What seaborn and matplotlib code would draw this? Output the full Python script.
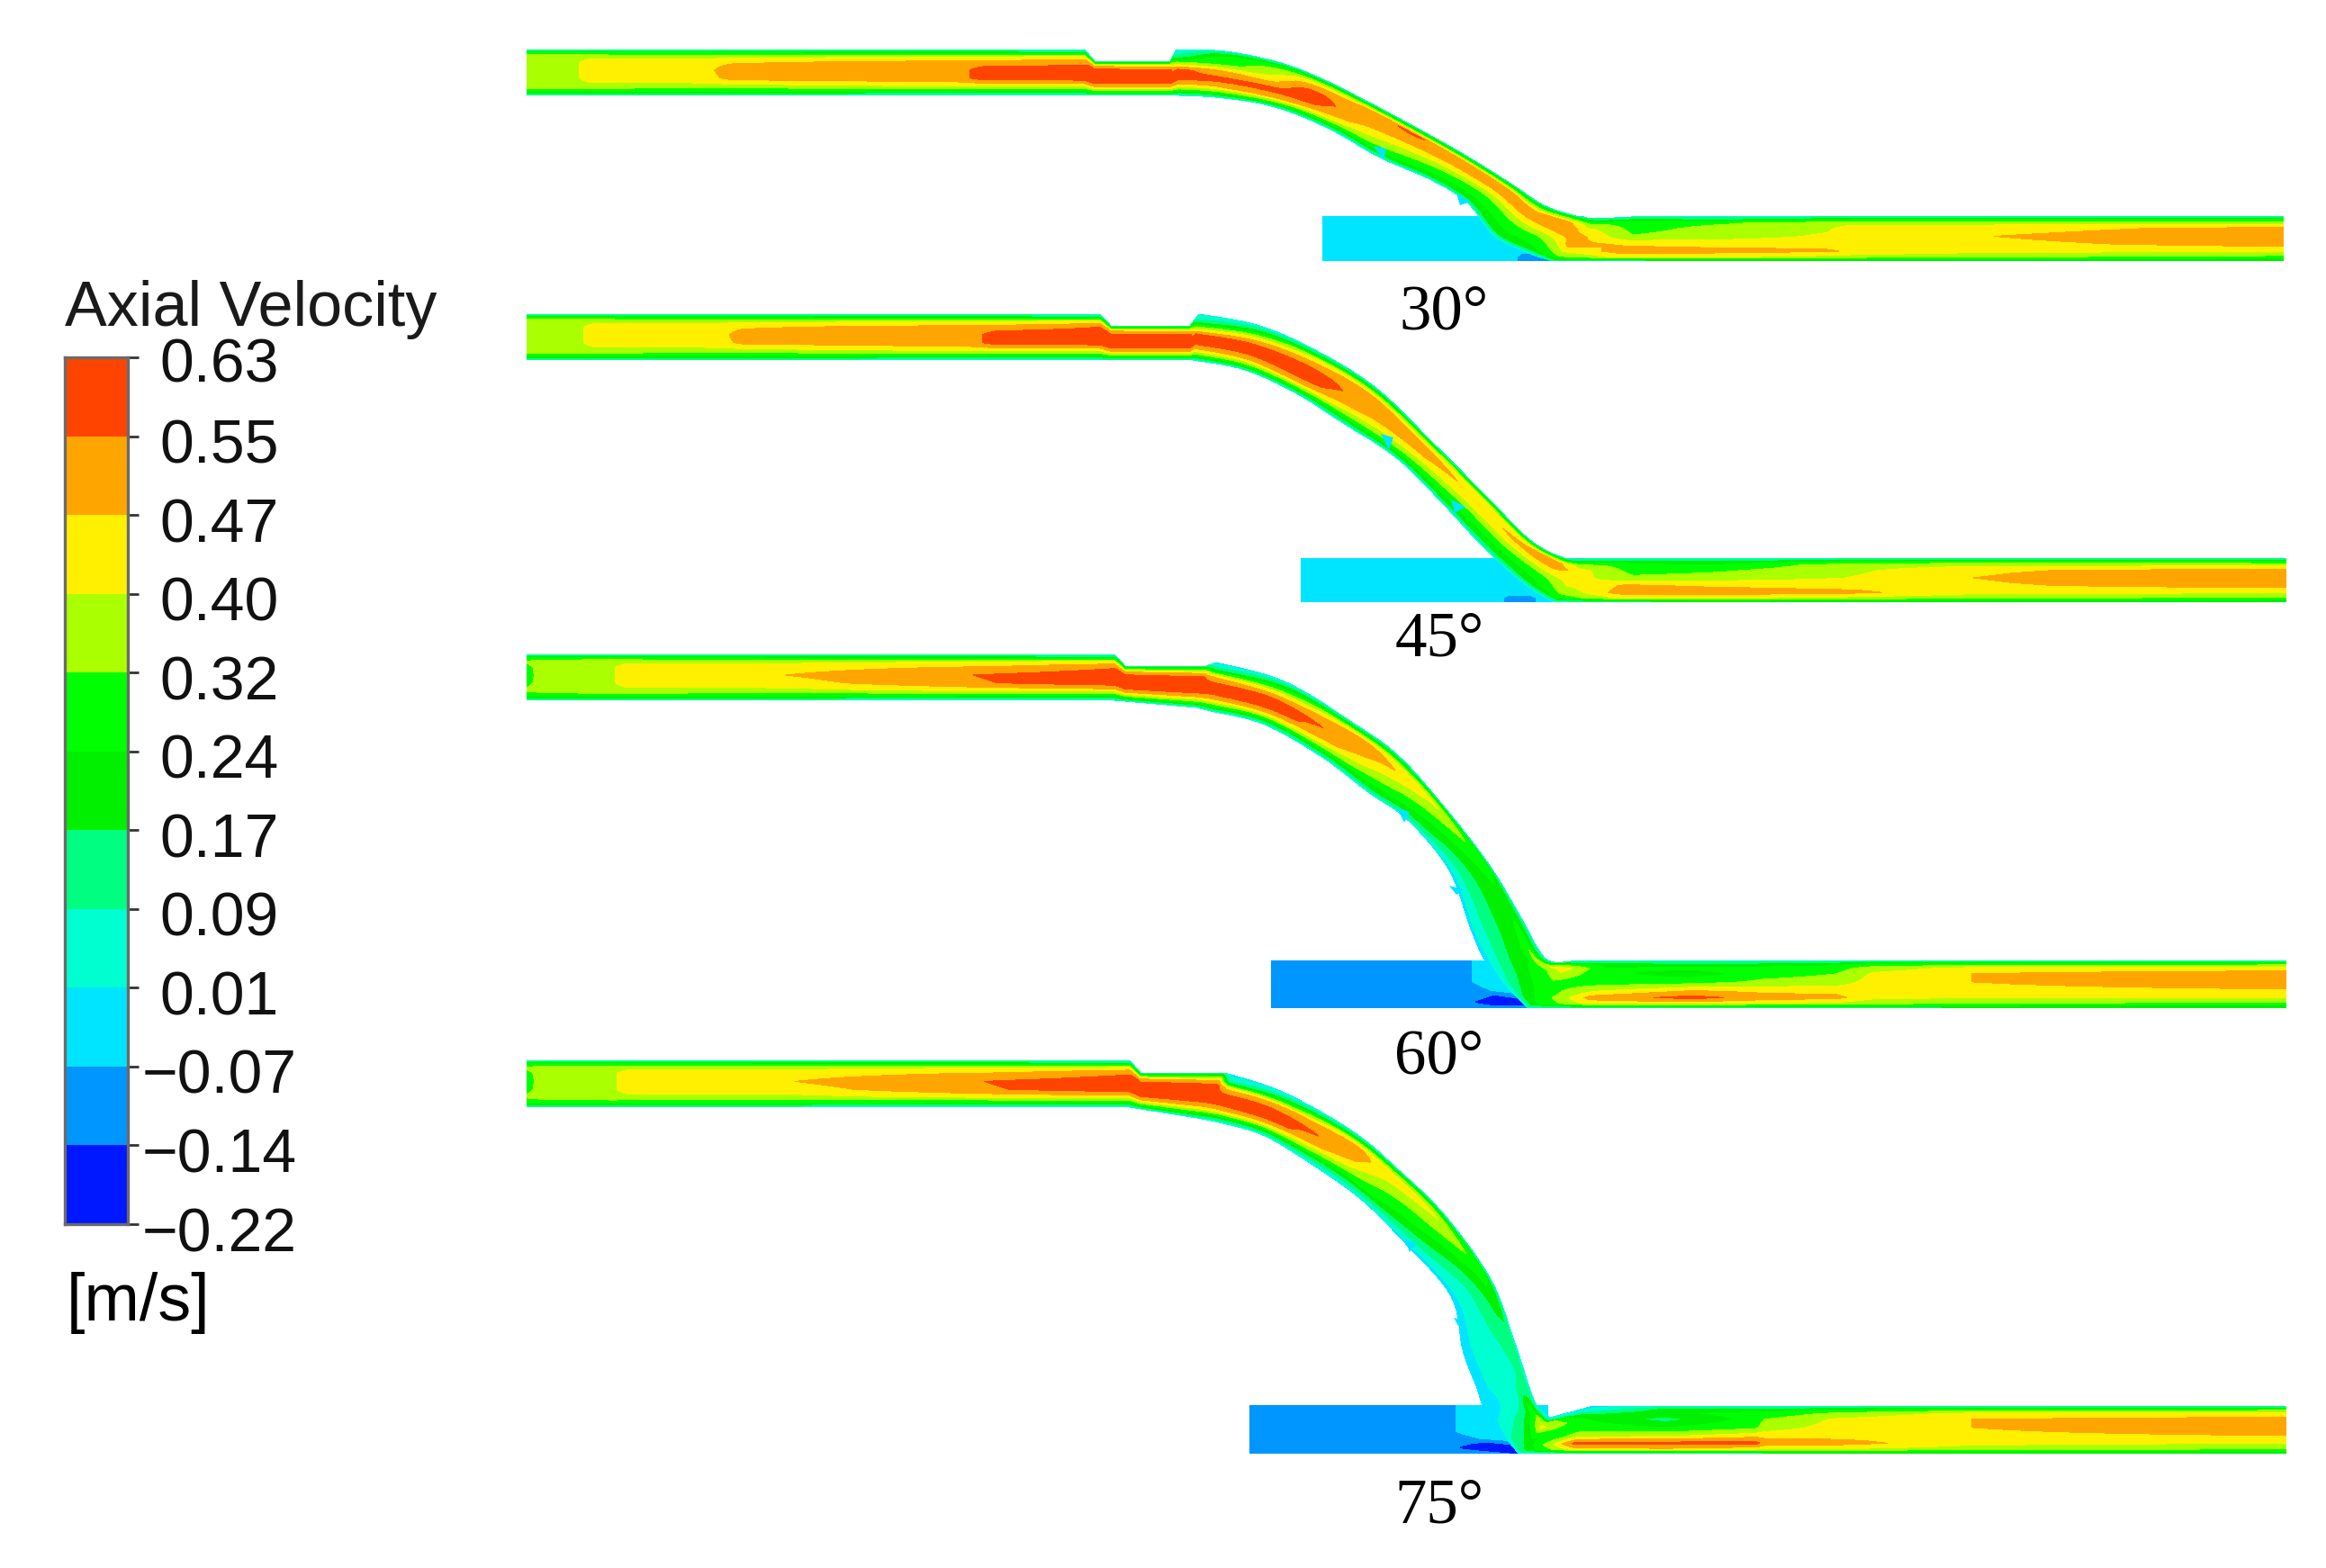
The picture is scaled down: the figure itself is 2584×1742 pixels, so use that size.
import numpy as np
import matplotlib
matplotlib.use("Agg")
import matplotlib.pyplot as plt
from matplotlib.colors import ListedColormap, BoundaryNorm
import seaborn as sns

sns.set_theme(style="white")
plt.rcParams['font.family'] = ['Liberation Sans', 'DejaVu Sans']

LEVELS = [-0.22, -0.14, -0.07, 0.01, 0.09, 0.17, 0.24, 0.32, 0.40, 0.47, 0.55, 0.63]
LEVEL_LABELS = ["0.63", "0.55", "0.47", "0.40", "0.32", "0.24", "0.17", "0.09", "0.01", "\u22120.07", "\u22120.14", "\u22120.22"]
BAND_COLORS = ["#0018ff", "#0096ff", "#00e5ff", "#00ffd0", "#00ff80", "#00f000", "#00ff00", "#aaff00", "#fff000", "#ffa500", "#ff4400"]
ANGLE_LABELS = ["30\u00b0", "45\u00b0", "60\u00b0", "75\u00b0"]
ACROSS = [0, .08, .16, .28, .45, .62, .78, .9, 1]

# ---- wall stations (top x, top y, bottom x, bottom y), velocity across the channel
W30 = [[585,55,585,106],[640,55,640,106],[655,55,655,106],[785,55,785,106],[815,55,815,106],[1070,55,1070,106],[1095,55,1095,106],[1205,55,1205,106],
       [1216,68,1216,106],[1300,68,1300,106],[1307,55,1310,106],[1361,57,1350,108],[1420,69,1400,115],
       [1463,85,1440,127],[1510,108,1484,147],[1570,140,1533,175],[1627,172,1590,200],[1680,205,1630,225],
       [1715,228,1660,262],[1751,240,1695,280],[1775,243,1725,290],[1830,240,1790,290],[1900,240,1885,290],
       [2030,240,2030,290],[2055,240,2055,290],[2215,240,2215,290],[2537,240,2537,290]]
U30 = [[.05,.28,.37,.38,.38,.38,.37,.28,.05],[.05,.28,.37,.39,.39,.39,.37,.28,.05],[.05,.27,.38,.43,.44,.43,.38,.27,.05],
       [.05,.25,.38,.44,.45,.44,.38,.26,.05],[.05,.25,.38,.46,.52,.50,.38,.26,.05],
       [.05,.23,.40,.50,.53,.53,.42,.25,.05],[.05,.22,.40,.50,.60,.60,.42,.24,.05],
       [.05,.20,.42,.52,.60,.60,.43,.24,.05],[.10,.30,.48,.60,.60,.58,.44,.25,.05],
       [.10,.30,.46,.58,.60,.58,.44,.25,.05],[.00,.06,.13,.33,.58,.58,.44,.26,.03],
       [.05,.20,.27,.30,.50,.58,.46,.28,.05],[.06,.24,.33,.38,.46,.58,.50,.30,.05],
       [.06,.28,.42,.52,.60,.57,.45,.25,.05],[.06,.30,.46,.52,.52,.48,.38,.22,.03],
       [.08,.32,.56,.52,.46,.38,.30,.22,.03],[.08,.30,.50,.52,.44,.33,.25,.20,.03],
       [.08,.30,.48,.52,.42,.30,.24,.20,.04],[.08,.30,.46,.52,.42,.30,.24,.22,.02],
       [.08,.32,.48,.52,.46,.34,.26,.22,.00],[.10,.20,.35,.44,.50,.50,.40,.30,.10],
       [.05,.20,.26,.28,.33,.46,.50,.42,.10],[.05,.15,.30,.35,.36,.44,.50,.42,.12],
       [.05,.22,.37,.39,.41,.44,.48,.38,.13],[.05,.24,.38,.43,.44,.45,.46,.37,.14],
       [.05,.25,.38,.44,.47,.45,.42,.33,.14],[.05,.25,.38,.50,.54,.50,.41,.30,.14]]

W45 = [[585,349,585,400],[645,349,645,400],[660,349,660,400],[800,349,800,400],[825,349,825,400],[1085,349,1085,400],[1108,349,1108,400],[1222,349,1222,400],
       [1234,362,1234,400],[1322,362,1322,400],[1332,349,1325,400],[1400,362,1383,411],[1467,392,1440,437],
       [1530,432,1492,470],[1590,490,1553,510],[1650,550,1608,565],[1700,600,1650,610],[1738,620,1695,650],
       [1760,621,1727,669],[1830,620,1790,669],[1900,620,1885,669],[2050,620,2050,669],[2192,620,2192,669],
       [2540,620,2540,669]]
U45 = [[.05,.28,.37,.38,.38,.38,.37,.28,.05],[.05,.28,.37,.39,.39,.39,.37,.28,.05],[.05,.27,.38,.43,.44,.43,.38,.27,.05],
       [.05,.25,.38,.44,.45,.44,.38,.26,.05],[.05,.25,.38,.46,.50,.49,.38,.26,.05],
       [.05,.23,.40,.50,.53,.53,.42,.25,.05],[.05,.22,.40,.50,.60,.60,.42,.24,.05],
       [.05,.20,.42,.55,.60,.60,.43,.24,.05],[.10,.30,.48,.58,.60,.58,.44,.25,.05],
       [.10,.30,.45,.58,.60,.58,.44,.25,.05],[.00,.06,.13,.33,.58,.58,.44,.26,.03],
       [.03,.12,.24,.42,.58,.58,.46,.28,.05],[.05,.20,.40,.50,.60,.58,.46,.26,.05],
       [.05,.28,.46,.52,.52,.47,.36,.22,.04],[.05,.30,.44,.50,.48,.40,.30,.20,.04],
       [.06,.30,.46,.46,.42,.32,.24,.18,.03],[.06,.30,.46,.48,.40,.30,.22,.16,.03],
       [.08,.30,.48,.50,.42,.30,.24,.18,.02],[.08,.20,.36,.44,.44,.40,.34,.26,.02],
       [.04,.20,.26,.28,.34,.48,.50,.40,.10],[.04,.18,.24,.30,.36,.46,.51,.42,.12],
       [.04,.24,.36,.38,.40,.44,.49,.38,.14],[.05,.27,.38,.46,.47,.46,.42,.34,.14],
       [.05,.25,.38,.50,.54,.50,.41,.30,.14]]

W60 = [[585,727,585,778],[610,727,610,778],[680,727,680,778],[695,727,695,778],[873,727,873,778],[1107,727,1107,778],
       [1238,727,1238,778],[1250,740,1250,779],[1340,740,1330,786],[1351,736,1345,790],[1427,757,1405,805],
       [1503,803,1470,842],[1554,840,1520,880],[1605,897,1565,912],[1656,963,1610,967],[1690,1020,1635,1035],
       [1717,1065,1655,1075],[1745,1068,1697,1120],[1790,1067,1760,1120],[1880,1067,1880,1120],[1960,1067,1960,1120],
       [2040,1067,2040,1120],[2080,1067,2080,1120],[2190,1067,2190,1120],[2540,1067,2540,1120]]
U60 = [[.05,.28,.33,.30,.29,.30,.33,.28,.05],[.05,.28,.36,.37,.38,.37,.36,.28,.05],[.05,.28,.37,.39,.39,.39,.37,.28,.05],
       [.05,.27,.38,.43,.44,.43,.38,.27,.05],[.05,.24,.38,.44,.47,.44,.38,.26,.05],
       [.05,.22,.40,.48,.56,.55,.42,.24,.05],[.05,.20,.42,.54,.60,.60,.44,.24,.05],
       [.10,.28,.46,.58,.60,.58,.44,.25,.05],[.10,.28,.45,.57,.60,.58,.44,.25,.05],
       [-.02,.06,.18,.45,.58,.58,.44,.24,.04],[.00,.15,.24,.42,.58,.58,.44,.22,.04],
       [.05,.24,.44,.52,.53,.48,.36,.20,.03],[.05,.27,.44,.48,.42,.35,.26,.18,.02],
       [.05,.30,.40,.36,.30,.24,.20,.12,.00],[.05,.24,.26,.24,.20,.15,.10,.03,-.02],
       [.05,.22,.24,.22,.18,.13,.08,.03,-.02],[.05,.20,.36,.24,.22,.16,.10,.03,-.03],
       [.05,.30,.44,.38,.30,.28,.25,.22,.05],[.03,.20,.24,.26,.27,.38,.50,.42,.05],
       [.03,.16,.26,.20,.28,.46,.58,.42,.06],[.03,.18,.27,.28,.34,.44,.51,.40,.06],
       [.04,.22,.28,.32,.36,.44,.49,.38,.10],[.04,.26,.36,.41,.43,.44,.42,.34,.12],
       [.05,.28,.42,.47,.47,.44,.40,.32,.14],[.05,.30,.42,.52,.54,.46,.40,.30,.14]]

W75 = [[585,1178,585,1230],[610,1178,610,1230],[682,1178,682,1230],[697,1178,697,1230],[883,1178,883,1230],[1120,1178,1120,1230],
       [1255,1178,1255,1230],[1267,1192,1267,1232],[1360,1192,1330,1242],[1368,1194,1350,1246],[1427,1214,1405,1262],
       [1503,1257,1470,1302],[1554,1300,1515,1335],[1605,1350,1560,1380],[1656,1421,1612,1440],[1682,1489,1625,1500],
       [1697,1535,1640,1540],[1707,1561,1652,1570],[1722,1575,1687,1615],[1770,1562,1745,1615],[1850,1562,1850,1615],
       [1950,1562,1950,1615],[1960,1562,1960,1615],[2040,1562,2040,1615],[2190,1562,2190,1615],[2540,1562,2540,1615]]
U75 = [[.05,.28,.33,.30,.29,.30,.33,.28,.05],[.05,.28,.36,.37,.38,.37,.36,.28,.05],[.05,.28,.37,.39,.39,.39,.37,.28,.05],
       [.05,.27,.38,.43,.44,.43,.38,.27,.05],[.05,.24,.38,.44,.47,.44,.38,.26,.05],
       [.05,.22,.40,.48,.56,.55,.42,.24,.05],[.05,.20,.42,.54,.60,.60,.44,.24,.05],
       [.10,.28,.46,.58,.60,.58,.44,.25,.05],[.10,.28,.46,.58,.60,.58,.44,.25,.05],
       [-.02,.03,.12,.44,.58,.58,.44,.20,.02],[.00,.10,.22,.46,.58,.58,.42,.20,.02],
       [.03,.22,.44,.52,.52,.44,.28,.12,.00],[.05,.30,.44,.42,.36,.30,.24,.12,.00],
       [.05,.30,.40,.36,.28,.22,.14,.06,-.02],[.05,.24,.25,.20,.14,.08,.04,.01,-.03],
       [.05,.14,.12,.09,.06,.04,.02,-.01,-.04],[.05,.12,.10,.08,.05,.03,.01,-.01,-.04],
       [.02,.18,.26,.12,.06,.03,.00,-.02,-.05],[.00,.10,.38,.42,.30,.22,.18,.15,.03],
       [-.01,.02,.15,.24,.28,.36,.58,.44,.06],[.02,.20,.22,.14,.24,.38,.58,.46,.08],
       [.03,.20,.27,.27,.30,.44,.58,.42,.10],[.03,.20,.26,.32,.36,.44,.52,.40,.12],
       [.04,.24,.34,.41,.43,.44,.50,.40,.14],[.05,.28,.42,.47,.47,.45,.42,.36,.14],
       [.05,.30,.42,.50,.53,.47,.40,.32,.14]]

# range of stations, by top-wall x, over which the walls run as a smooth curve
BEND30 = (1307, 1775)
BEND45 = (1332, 1760)
BEND60 = (1351, 1745)
BEND75 = (1368, 1722)

# ---- dead-end branch boxes: x stations, y stations, velocity
BX30 = [1469, 1680, 1690, 1715, 1730, 1760]; BY30 = [240, 278, 285, 290]
BU30 = [[-.03]*6, [-.03]*6, [-.03,-.03,-.10,-.10,-.03,-.03], [-.03,-.03,-.10,-.10,-.03,-.03]]
BX45 = [1445, 1665, 1675, 1700, 1715, 1760]; BY45 = [620, 658, 664, 669]
BU45 = [[-.03]*6, [-.03]*6, [-.03,-.03,-.10,-.10,-.03,-.03], [-.03,-.03,-.10,-.10,-.03,-.03]]
BX60 = [1412, 1625, 1642, 1660, 1695, 1720]; BY60 = [1067, 1090, 1100, 1106, 1113, 1120]
BU60 = [[-.10,-.10,-.05,-.03,-.03,-.03], [-.10,-.10,-.05,-.03,-.03,-.03], [-.10,-.10,-.10,-.06,-.03,-.03],
        [-.10,-.10,-.10,-.15,-.08,-.05], [-.10,-.10,-.16,-.18,-.18,-.10], [-.10,-.10,-.10,-.12,-.12,-.10]]
BX75 = [1388, 1605, 1625, 1650, 1690, 1720]; BY75 = [1561, 1590, 1598, 1604, 1608, 1615]
BU75 = [[-.10,-.10,-.05,-.03,-.03,-.03], [-.10,-.10,-.05,-.03,-.03,-.03], [-.10,-.10,-.10,-.06,-.03,-.03],
        [-.10,-.10,-.12,-.18,-.10,-.08], [-.10,-.10,-.16,-.18,-.18,-.10], [-.10,-.10,-.10,-.12,-.15,-.10]]

# small cell-sized spikes on the lower wall of each bend
SPIKES = [[(1526,162),(1540,165),(1537,178)], [(1618,215),(1634,224),(1622,228)],
          [(1534,482),(1548,486),(1543,500)], [(1612,555),(1628,563),(1616,570)],
          [(1552,898),(1566,902),(1560,914)], [(1610,984),(1626,988),(1618,994)],
          [(1560,1376),(1574,1382),(1566,1391)], [(1615,1464),(1630,1468),(1620,1473)]]

W, H = 2584, 1742
fig = plt.figure(figsize=(W / 100, H / 100), dpi=100, facecolor="white")
ax = fig.add_axes([0, 0, 1, 1])
ax.set_xlim(0, W)
ax.set_ylim(H, 0)
ax.axis("off")


def contour(X, Y, Z):
    ax.contourf(X, Y, Z, levels=LEVELS, colors=BAND_COLORS, antialiased=False, extend="neither")


def cr(p0, p1, p2, p3, t):
    return 0.5 * (2 * p1 + (p2 - p0) * t + (2 * p0 - 5 * p1 + 4 * p2 - p3) * t ** 2 + (3 * p1 - p0 - 3 * p2 + p3) * t ** 3)


def refine(w, u, bend, n=8):
    lo, hi = bend
    out_w, out_u = [], []
    m = len(w)
    for i in range(m - 1):
        curved = w[i, 0] >= lo and w[i + 1, 0] <= hi
        im = i - 1 if i > 0 and w[i - 1, 0] >= lo else i
        ip = i + 2 if i + 2 < m and w[i + 2, 0] <= hi else i + 1
        for t in np.linspace(0, 1, n, endpoint=False):
            if curved:
                out_w.append(cr(w[im], w[i], w[i + 1], w[ip], t))
                out_u.append(cr(u[im], u[i], u[i + 1], u[ip], t))
            else:
                out_w.append(w[i] + (w[i + 1] - w[i]) * t)
                out_u.append(u[i] + (u[i + 1] - u[i]) * t)
    out_w.append(w[-1])
    out_u.append(u[-1])
    return np.array(out_w), np.array(out_u)


def draw_pipe(walls, vel, bend):
    w, u = refine(np.array(walls, float), np.array(vel, float), bend)
    f = np.array(ACROSS)[None, :]
    X = w[:, [0]] + f * (w[:, [2]] - w[:, [0]])
    Y = w[:, [1]] + f * (w[:, [3]] - w[:, [1]])
    contour(X, Y, u)


for bx, by, bu, wl, ul, bd in [(BX30, BY30, BU30, W30, U30, BEND30), (BX45, BY45, BU45, W45, U45, BEND45),
                               (BX60, BY60, BU60, W60, U60, BEND60), (BX75, BY75, BU75, W75, U75, BEND75)]:
    contour(bx, by, bu)
    draw_pipe(wl, ul, bd)

for tri in SPIKES:
    ax.fill(*zip(*tri), color=BAND_COLORS[2], lw=0, zorder=1)

for lab, (lx, ly) in zip(ANGLE_LABELS, [(1604, 348), (1599, 711), (1599, 1175), (1599, 1674)]):
    ax.text(lx, ly, lab, family=['Liberation Serif', 'DejaVu Serif'], fontsize=51, color="black",
            ha="center", va="center")

# ---- colour legend drawn as a seaborn heatmap
mids = (np.array(LEVELS[:-1]) + np.array(LEVELS[1:])) / 2
cax = fig.add_axes([72 / W, 1 - 1360 / H, 70 / W, 963 / H])
cmap = ListedColormap(BAND_COLORS)
norm = BoundaryNorm(LEVELS, cmap.N)
sns.heatmap(mids[::-1].reshape(-1, 1), ax=cax, cmap=cmap, norm=norm, cbar=False,
            xticklabels=False, yticklabels=False)
cax.set_xticks([])
cax.set_yticks(np.arange(len(LEVELS)))
cax.set_yticklabels([])
cax.yaxis.tick_right()
cax.tick_params(axis="y", right=True, length=8.5, width=2, color="#333333", pad=0)
for s in cax.spines.values():
    s.set_visible(True)
    s.set_color("#6b6b6b")
    s.set_linewidth(2.4)
for i, lab in enumerate(LEVEL_LABELS):
    ax.text(244, 397 + i * 963 / 11 + 9 + (0 if i == 0 else 3), lab, fontsize=49, color="#111111",
            ha="center", va="center")
ax.text(72, 362, "Axial Velocity", fontsize=50.5, color="#1a1a1a", ha="left", va="baseline")
ax.text(74, 1467, "[m/s]", fontsize=53, color="black", ha="left", va="baseline")

fig.savefig("out.png", dpi=100, facecolor="white")
